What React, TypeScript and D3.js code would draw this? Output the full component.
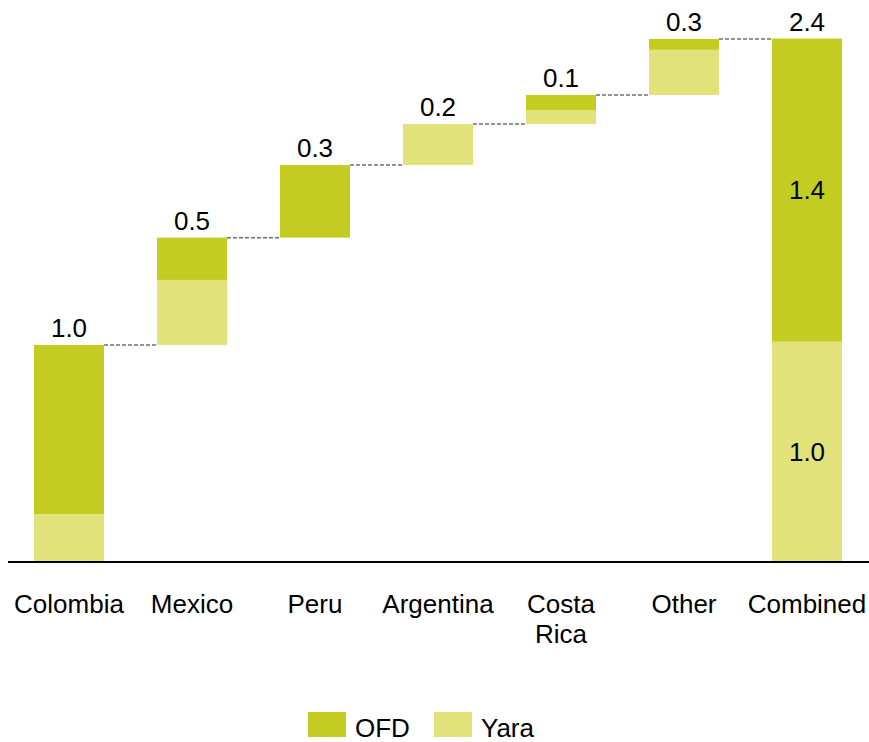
import { useEffect, useRef } from "react";
import * as d3 from "d3";

const categories = ["Colombia", "Mexico", "Peru", "Argentina", "Costa Rica", "Other", "Combined"];
const ofdValues = [0.775, 0.194, 0.333, 0, 0.069, 0.05, 1.39];
const yaraValues = [0.22, 0.298, 0, 0.188, 0.064, 0.207, 1.01];
const seriesNames = ["OFD", "Yara"];

const OFD_COLOR = "#c4cc22";
const YARA_COLOR = "#e1e37a";
const FONT = "'Liberation Sans', Arial, sans-serif";
const FONT_SIZE = "26px";

const width = 869;
const height = 742;

const App = () => {
  const svgRef = useRef<SVGSVGElement | null>(null);

  useEffect(() => {
    if (!svgRef.current) {
      return;
    }
    const svg = d3.select(svgRef.current);
    svg.selectAll("*").remove();

    const baseline = 562;
    const xScale = d3
      .scaleBand()
      .domain(categories)
      .range([7.5, 868.5])
      .paddingInner(0.431)
      .paddingOuter(0.2155);
    const yScale = d3.scaleLinear().domain([0, 2.4]).range([baseline, 38.5]);
    const fmt = d3.format(".1f");

    // waterfall bases: combined sits on zero, the others stack up
    const lastIdx = categories.length - 1;
    let running = 0;
    const bars = categories.map((c, i) => {
      const base = i === lastIdx ? 0 : running;
      const total = ofdValues[i] + yaraValues[i];
      if (i !== lastIdx) running += total;
      return { c, i, base, total, yara: yaraValues[i], ofd: ofdValues[i] };
    });

    const g = svg.append("g");

    // yara on the bottom, ofd on top
    g.selectAll(".yara")
      .data(bars.filter((d) => d.yara > 0))
      .enter()
      .append("rect")
      .attr("x", (d) => xScale(d.c) as number)
      .attr("width", xScale.bandwidth())
      .attr("y", (d) => yScale(d.base + d.yara))
      .attr("height", (d) => yScale(d.base) - yScale(d.base + d.yara))
      .attr("fill", YARA_COLOR);

    g.selectAll(".ofd")
      .data(bars.filter((d) => d.ofd > 0))
      .enter()
      .append("rect")
      .attr("x", (d) => xScale(d.c) as number)
      .attr("width", xScale.bandwidth())
      .attr("y", (d) => yScale(d.base + d.yara + d.ofd))
      .attr("height", (d) => yScale(d.base + d.yara) - yScale(d.base + d.yara + d.ofd))
      .attr("fill", OFD_COLOR);

    // connectors
    g.selectAll(".conn")
      .data(bars.slice(0, -1))
      .enter()
      .append("line")
      .attr("x1", (d) => (xScale(d.c) as number) + xScale.bandwidth())
      .attr("x2", (d) => xScale(categories[d.i + 1]) as number)
      .attr("y1", (d) => yScale(d.base + d.total))
      .attr("y2", (d) => yScale(d.base + d.total))
      .attr("stroke", "#6f6f6f")
      .attr("stroke-width", 1.5)
      .attr("stroke-dasharray", "4,2");

    // baseline
    g.append("line")
      .attr("x1", 8)
      .attr("x2", width)
      .attr("y1", baseline)
      .attr("y2", baseline)
      .attr("stroke", "#000")
      .attr("stroke-width", 2);

    // totals above bars
    g.selectAll(".total")
      .data(bars)
      .enter()
      .append("text")
      .attr("x", (d) => (xScale(d.c) as number) + xScale.bandwidth() / 2)
      .attr("y", (d) => yScale(d.base + d.total) - 8)
      .attr("text-anchor", "middle")
      .attr("font-family", FONT)
      .attr("font-size", FONT_SIZE)
      .attr("fill", "#000")
      .text((d) => fmt(d.total));

    // inner labels on the combined bar
    const comb = bars[lastIdx];
    const cx = (xScale(comb.c) as number) + xScale.bandwidth() / 2;
    [
      { v: comb.yara, mid: comb.yara / 2 },
      { v: comb.ofd, mid: comb.yara + comb.ofd / 2 },
    ].forEach((d) => {
      g.append("text")
        .attr("x", cx)
        .attr("y", yScale(d.mid))
        .attr("dy", "0.35em")
        .attr("text-anchor", "middle")
        .attr("font-family", FONT)
        .attr("font-size", FONT_SIZE)
        .attr("fill", "#000")
        .text(fmt(d.v));
    });

    // category labels
    const xAxis = g.append("g");
    categories.forEach((c) => {
      const words = c === "Costa Rica" ? ["Costa", "Rica"] : [c];
      const t = xAxis
        .append("text")
        .attr("x", (xScale(c) as number) + xScale.bandwidth() / 2)
        .attr("y", 613)
        .attr("text-anchor", "middle")
        .attr("font-family", FONT)
        .attr("font-size", FONT_SIZE)
        .attr("fill", "#000");
      words.forEach((w, wi) => {
        t.append("tspan")
          .attr("x", (xScale(c) as number) + xScale.bandwidth() / 2)
          .attr("dy", wi === 0 ? 0 : 30)
          .text(w);
      });
    });

    // legend
    const legend = svg.append("g").attr("transform", "translate(308,712)");
    const colors = [OFD_COLOR, YARA_COLOR];
    seriesNames.forEach((name, i) => {
      const lg = legend.append("g").attr("transform", `translate(${i * 126},0)`);
      lg.append("rect").attr("width", 38).attr("height", 25).attr("fill", colors[i]);
      lg.append("text")
        .attr("x", 47)
        .attr("y", 25)
        .attr("font-family", FONT)
        .attr("font-size", FONT_SIZE)
        .attr("fill", "#000")
        .text(name);
    });
  }, []);

  return (
    <svg
      ref={svgRef}
      width={width}
      height={height}
      style={{ position: "absolute", left: 0, top: 0, background: "#fff" }}
    />
  );
};

export default App;
